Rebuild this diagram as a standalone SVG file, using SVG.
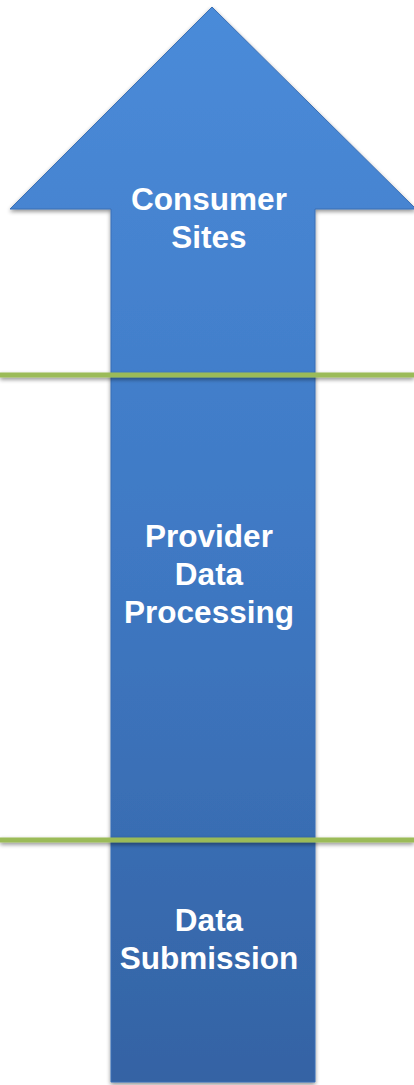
<svg xmlns="http://www.w3.org/2000/svg" width="414" height="1085" viewBox="0 0 414 1085">
<defs>
<linearGradient id="ag" x1="0" y1="0" x2="0" y2="1">
<stop offset="0" stop-color="#4a8bd9"/>
<stop offset="0.5" stop-color="#3f79c4"/>
<stop offset="1" stop-color="#3463a4"/>
</linearGradient>
<filter id="sh" x="-10%" y="-10%" width="120%" height="120%">
<feGaussianBlur in="SourceAlpha" stdDeviation="2"/>
<feOffset dx="0" dy="2"/>
<feComponentTransfer><feFuncA type="linear" slope="0.45"/></feComponentTransfer>
<feMerge><feMergeNode/><feMergeNode in="SourceGraphic"/></feMerge>
</filter>
<style>
.lbl{font-family:"Liberation Sans",Arial,sans-serif;font-weight:bold;font-size:31.5px;fill:#ffffff;text-anchor:middle}
.sep{stroke:#9bbb59;stroke-width:5}
</style>
</defs>
<g id="arrow" filter="url(#sh)">
<path d="M212 7 L416 209 L315 209 L315 1082 L111 1082 L111 209 L10 209 Z" fill="url(#ag)" stroke="#3a6fb5" stroke-width="1"/>
</g>
<g id="connectors" filter="url(#sh)">
<line class="sep" x1="0" y1="375" x2="414" y2="375"/>
<line class="sep" x1="0" y1="840" x2="414" y2="840"/>
</g>
<g id="consumer">
<text class="lbl" x="209" y="210">Consumer</text>
<text class="lbl" x="209" y="248">Sites</text>
</g>
<g id="provider">
<text class="lbl" x="209" y="547">Provider</text>
<text class="lbl" x="209" y="585">Data</text>
<text class="lbl" x="209" y="623">Processing</text>
</g>
<g id="submission">
<text class="lbl" x="209" y="931">Data</text>
<text class="lbl" x="209" y="969">Submission</text>
</g>
</svg>
